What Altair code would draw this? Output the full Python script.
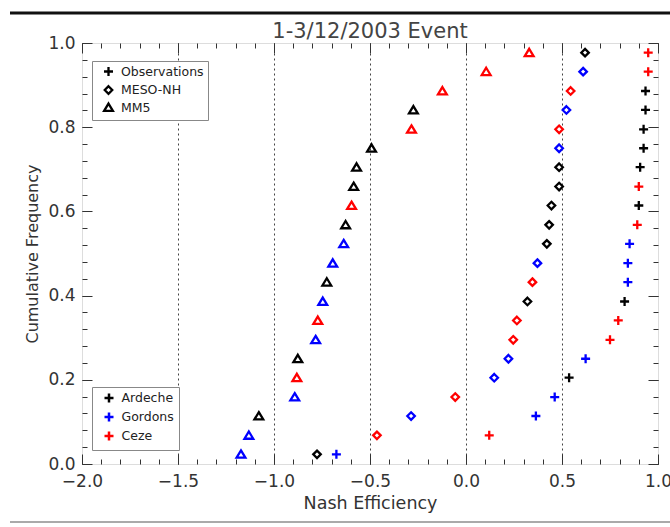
import altair as alt
import pandas as pd

FONT = "DejaVu Sans"

# Cumulative-frequency levels (bottom to top)
levels = [0.023, 0.068, 0.114, 0.159, 0.205, 0.250, 0.295, 0.341, 0.386, 0.432, 0.477,
          0.523, 0.568, 0.614, 0.659, 0.705, 0.750, 0.795, 0.841, 0.886, 0.932, 0.977]

# Observations (plus)
obs_nash = [-0.675, 0.121, 0.364, 0.462, 0.537, 0.623, 0.750, 0.793, 0.826, 0.843, 0.843,
            0.852, 0.892, 0.900, 0.900, 0.907, 0.925, 0.925, 0.935, 0.935, 0.949, 0.949]
obs_river = ["Gordons", "Ceze", "Gordons", "Gordons", "Ardeche", "Gordons", "Ceze", "Ceze",
             "Ardeche", "Gordons", "Gordons", "Gordons", "Ceze", "Ardeche", "Ceze", "Ardeche",
             "Ardeche", "Ardeche", "Ardeche", "Ardeche", "Ceze", "Ceze"]

# MESO-NH (diamond)
meso_nash = [-0.776, -0.464, -0.286, -0.056, 0.147, 0.221, 0.246, 0.265, 0.320, 0.346, 0.372,
             0.421, 0.433, 0.445, 0.485, 0.485, 0.485, 0.485, 0.523, 0.545, 0.610, 0.620]
meso_river = ["Ardeche", "Ceze", "Gordons", "Ceze", "Gordons", "Gordons", "Ceze", "Ceze",
              "Ardeche", "Ceze", "Gordons", "Ardeche", "Ardeche", "Ardeche", "Ardeche", "Ardeche",
              "Gordons", "Ceze", "Gordons", "Ceze", "Gordons", "Ardeche"]

# MM5 (triangle)
mm5_nash = [-1.172, -1.131, -1.079, -0.892, -0.881, -0.876, -0.783, -0.772, -0.746, -0.725, -0.694,
            -0.637, -0.627, -0.596, -0.585, -0.570, -0.492, -0.284, -0.274, -0.123, 0.105, 0.329]
mm5_river = ["Gordons", "Gordons", "Ardeche", "Gordons", "Ceze", "Ardeche", "Gordons", "Ceze",
             "Gordons", "Ardeche", "Gordons", "Gordons", "Ardeche", "Ceze", "Ardeche", "Ardeche",
             "Ardeche", "Ceze", "Ardeche", "Ceze", "Ceze", "Ceze"]

models = ["Observations", "MESO-NH", "MM5"]
rivers = ["Ardeche", "Gordons", "Ceze"]
river_colors = ["#000000", "#0000ff", "#ff0000"]
PLUS = "M-0.9,0L0.9,0M0,-0.9L0,0.9"
DIAMOND = "M0,-0.75L0.75,0L0,0.75L-0.75,0Z"
TRIANGLE = "M0,-0.78L0.88,0.68L-0.88,0.68Z"
model_shapes = [PLUS, DIAMOND, TRIANGLE]

x_major = [-2.0, -1.5, -1.0, -0.5, 0.0, 0.5, 1.0]
x_grid = [-1.5, -1.0, -0.5, 0.0, 0.5]
x_minor = [round(-2.0 + 0.1 * i, 2) for i in range(31)]
y_major = [0.0, 0.2, 0.4, 0.6, 0.8, 1.0]
y_minor = [round(0.04 * i, 2) for i in range(26)]

rows = []
for model, nash, river in [("Observations", obs_nash, obs_river),
                           ("MESO-NH", meso_nash, meso_river),
                           ("MM5", mm5_nash, mm5_river)]:
    for v, f, r in zip(nash, levels, river):
        rows.append({"nash": v, "freq": f, "model": model, "river": r})
df = pd.DataFrame(rows)

W, H = 576, 421
x_scale = alt.Scale(domain=[-2, 1], nice=False, zero=False)
y_scale = alt.Scale(domain=[0, 1], nice=False, zero=False)


def tick_axis(orient, values, size, offset):
    return alt.Axis(orient=orient, values=values, offset=offset, tickSize=size,
                    labels=False, domain=False, grid=False, title=None,
                    tickColor="#333", tickWidth=1)


def ghost(xaxis, yaxis):
    return alt.Chart(df).mark_point(opacity=0).encode(
        x=alt.X("nash:Q", scale=x_scale, axis=xaxis),
        y=alt.Y("freq:Q", scale=y_scale, axis=yaxis),
    )


grid_layer = ghost(
    alt.Axis(orient="bottom", values=x_grid, grid=True, gridDash=[2, 3], gridColor="#444",
             gridWidth=1, gridOpacity=1, labels=False, ticks=False, domain=False, title=None),
    None,
)
t1 = ghost(tick_axis("top", x_major, 10, -H), tick_axis("right", y_major, 10, -W))
t2 = ghost(tick_axis("top", x_minor, 5, -H), tick_axis("right", y_minor, 5, -W))
t3 = ghost(tick_axis("bottom", x_major, 10, -H), tick_axis("left", y_major, 10, -W))
t4 = ghost(tick_axis("bottom", x_minor, 5, -H), tick_axis("left", y_minor, 5, -W))

points = alt.Chart(df).mark_point(filled=False, strokeWidth=2.3, opacity=1, size=100).encode(
    x=alt.X("nash:Q", scale=x_scale,
            axis=alt.Axis(orient="bottom", values=x_major, format=".1f", ticks=False,
                          domain=False, grid=False, labelFontSize=17, labelPadding=9,
                          labelColor="#333", labelFont=FONT, labelFlush=False,
                          labelOverlap=False, title="Nash Efficiency", titleFontSize=17.5,
                          titleFontWeight="normal", titleFont=FONT, titleColor="#333",
                          titlePadding=5)),
    y=alt.Y("freq:Q", scale=y_scale,
            axis=alt.Axis(orient="left", values=y_major, format=".1f", ticks=False,
                          domain=False, grid=False, labelFontSize=17, labelPadding=7,
                          labelColor="#333", labelFont=FONT, labelFlush=False,
                          labelOverlap=False, title="Cumulative Frequency", titleFontSize=16,
                          titleFontWeight="normal", titleFont=FONT, titleColor="#333",
                          titlePadding=7)),
    shape=alt.Shape("model:N", scale=alt.Scale(domain=models, range=model_shapes),
                    legend=alt.Legend(title=None, orient="none", legendX=10, legendY=18,
                                      direction="vertical", strokeColor="#888",
                                      fillColor="white", padding=4, rowPadding=0.5,
                                      symbolOffset=6,
                                      labelFontSize=12.5, labelColor="#222", labelFont=FONT,
                                      labelOffset=6, symbolSize=100, symbolStrokeWidth=2.3,
                                      symbolStrokeColor="black",
                                      symbolFillColor="transparent")),
    color=alt.Color("river:N", scale=alt.Scale(domain=rivers, range=river_colors),
                    legend=alt.Legend(title=None, orient="none", legendX=10, legendY=344,
                                      direction="vertical", strokeColor="#888",
                                      fillColor="white", padding=4.5, rowPadding=0,
                                      symbolOffset=6,
                                      labelFontSize=12.5, labelColor="#222", labelFont=FONT,
                                      labelOffset=6, symbolType=PLUS, symbolSize=100,
                                      symbolStrokeWidth=2.5,
                                      symbolFillColor="transparent")),
)

deco = pd.DataFrame({"k": [0]})
top_line = alt.Chart(deco).mark_rule(color="#111", strokeWidth=3).encode(
    x=alt.value(-72), x2=alt.value(588), y=alt.value(-30))
bottom_line = alt.Chart(deco).mark_rule(color="#aaa", strokeWidth=2).encode(
    x=alt.value(-72), x2=alt.value(588), y=alt.value(479))

chart = alt.layer(grid_layer, t1, t2, t3, t4, points, top_line, bottom_line).resolve_axis(
    x="independent", y="independent"
).properties(
    width=W, height=H,
    autosize=alt.AutoSizeParams(type="none"),
    padding={"left": 82, "top": 43, "right": 12, "bottom": 63},
    title=alt.TitleParams("1-3/12/2003 Event", fontSize=21, fontWeight="normal",
                          color="#444", font=FONT, offset=6, dy=36, anchor="middle"),
).configure_view(stroke="#333", strokeWidth=1).configure(background="white")

chart.save("out.html", embed_options={"renderer": "svg", "actions": False})
